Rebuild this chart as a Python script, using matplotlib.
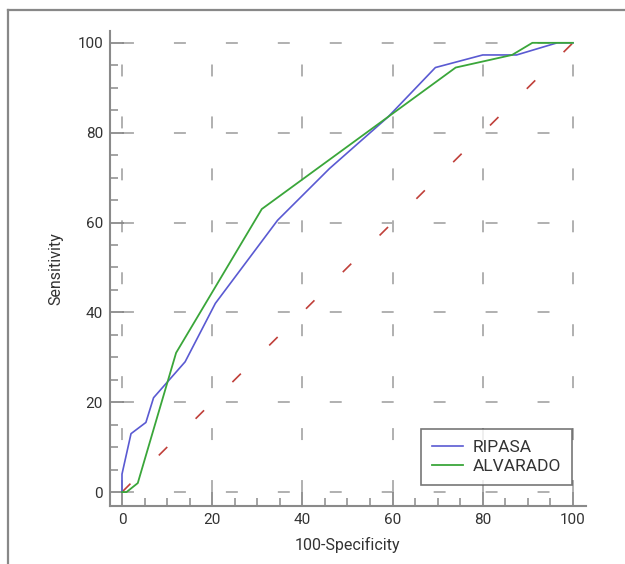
import matplotlib
matplotlib.use('Agg')
import matplotlib.pyplot as plt
from matplotlib.lines import Line2D
from matplotlib.ticker import MultipleLocator

plt.rcParams['font.family'] = ['Roboto', 'DejaVu Sans']
plt.rcParams['lines.scale_dashes'] = False

# --- ROC data ---
ripasa_x = [0, 0, 2, 5.3, 7, 14, 20.7, 34.5, 46, 59, 69.5, 80, 87.5, 96.5, 100]
ripasa_y = [0, 4, 13, 15.5, 21, 29, 42, 60.5, 72, 83.5, 94.5, 97.3, 97.3, 100, 100]

alvarado_x = [0, 1, 3.5, 12, 31, 74, 86.5, 91, 100]
alvarado_y = [0, 0, 2, 31, 63, 94.5, 97.3, 100, 100]

ref_line = [0, 100]
grid_vals = [0, 20, 40, 60, 80, 100]

W, H = 625, 564
fig = plt.figure(figsize=(W / 100, H / 100), dpi=100)
ax = fig.add_axes([110 / W, 1 - 506 / H, 476 / W, 475.3 / H])

dash = (0, (8.6, 28.8))
grid_kw = dict(color='#b0b0b0', lw=1.4, linestyle=dash, zorder=1)
for v in grid_vals:
    ax.plot([v, v], [0, 100], **grid_kw)
    ax.plot([0, 100], [v, v], **grid_kw)

# chance diagonal
ax.plot(ref_line, ref_line, color='#c0403a', lw=1.2, linestyle=dash, zorder=2)

ax.plot(ripasa_x, ripasa_y, color='#5a5ad2', lw=1.2, label='RIPASA', zorder=3)
ax.plot(alvarado_x, alvarado_y, color='#3aa63a', lw=1.3, label='ALVARADO', zorder=4)

ax.set_xlim(-2.66, 102.9)
ax.set_ylim(-3.1, 102.7)
ax.xaxis.set_major_locator(MultipleLocator(20))
ax.xaxis.set_minor_locator(MultipleLocator(5))
ax.yaxis.set_major_locator(MultipleLocator(20))
ax.yaxis.set_minor_locator(MultipleLocator(5))

for s in ['top', 'right']:
    ax.spines[s].set_visible(False)
for s in ['left', 'bottom']:
    ax.spines[s].set_color('#8a8a8a')
    ax.spines[s].set_linewidth(1.5)

ax.tick_params(which='major', direction='in', length=10, width=1.3,
               color='#8a8a8a', labelsize=11, labelcolor='#333333', pad=5)
ax.tick_params(which='minor', direction='in', length=6, width=1.1,
               color='#8a8a8a')

ax.set_xlabel('100-Specificity', fontsize=11.5, color='#333333', labelpad=7)
ax.set_ylabel('Sensitivity', fontsize=11.5, color='#333333', labelpad=10)

leg = ax.legend(loc='lower right', bbox_to_anchor=(0.9706, 0.0442),
                borderaxespad=0, fontsize=12.5, fancybox=False, frameon=True,
                handlelength=1.75, handletextpad=0.55, labelspacing=0.2,
                borderpad=0.65)
leg.get_frame().set_edgecolor('#555555')
leg.get_frame().set_linewidth(1.2)
for t in leg.get_texts():
    t.set_color('#333333')

# page frame (top and left edges)
fig.add_artist(Line2D([8 / W, 1], [1 - 10 / H, 1 - 10 / H], color='#888888', lw=1.6))
fig.add_artist(Line2D([8 / W, 8 / W], [0, 1 - 10 / H], color='#888888', lw=1.6))

fig.savefig('out.png', dpi=100)
